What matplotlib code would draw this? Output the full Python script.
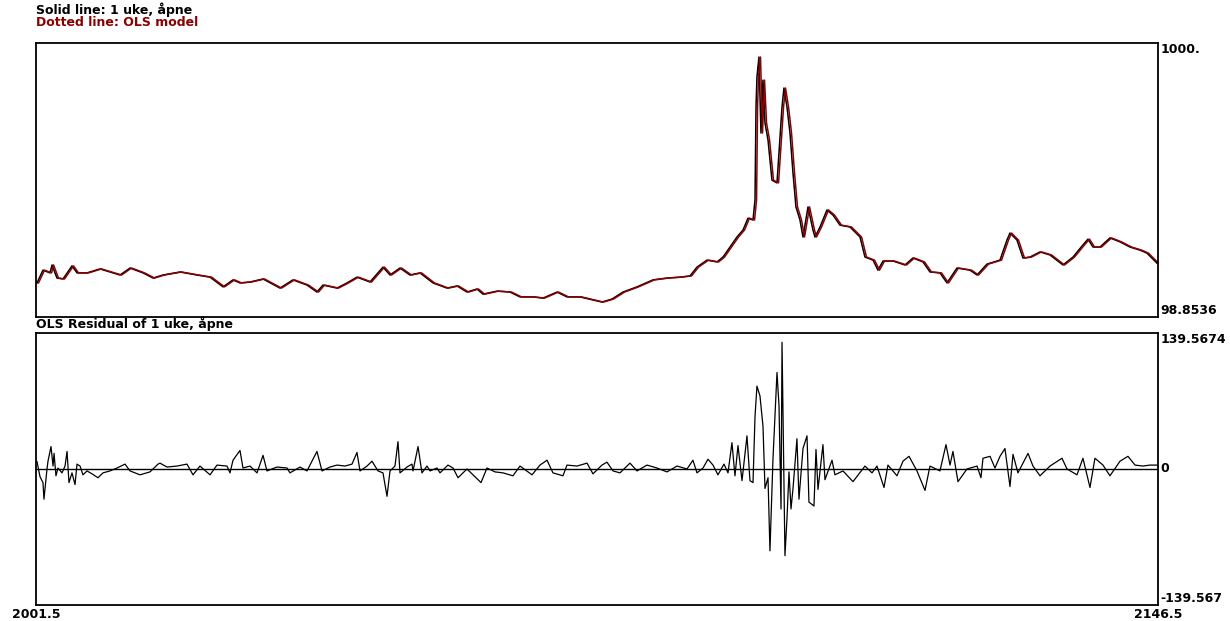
import numpy as np
import matplotlib.pyplot as plt

# ---- data ----
# weekly level ("1 uke, åpne")
obs_weeks = [2001.63, 2002.40, 2003.31, 2003.57, 2004.21, 2004.99, 2006.15, 2006.80, 2008.09, 2009.77,
             2011.06, 2012.36, 2013.65, 2015.33, 2016.62, 2017.91, 2020.11, 2022.31, 2023.99, 2025.67,
             2026.96, 2027.86, 2029.16, 2030.84, 2033.03, 2034.71, 2036.52, 2037.81, 2038.59, 2040.40,
             2041.69, 2042.98, 2044.66, 2046.34, 2047.25, 2048.54, 2049.83, 2051.12, 2052.80, 2054.61,
             2055.91, 2057.20, 2058.49, 2059.27, 2061.08, 2062.75, 2064.05, 2065.73, 2067.02, 2068.83,
             2070.12, 2071.80, 2073.48, 2074.64, 2075.94, 2077.36, 2079.17, 2081.23, 2083.04, 2084.72,
             2086.02, 2086.92, 2088.21, 2089.51, 2090.28, 2091.19, 2092.09, 2092.87, 2093.51, 2094.16,
             2094.42, 2094.55, 2094.67, 2094.93, 2095.19, 2095.45, 2095.71, 2096.10, 2096.61, 2097.26,
             2097.52, 2097.91, 2098.16, 2098.55, 2098.94, 2099.33, 2099.71, 2100.23, 2100.62, 2101.27,
             2101.91, 2102.17, 2102.82, 2103.72, 2104.50, 2105.40, 2106.69, 2107.99, 2108.63, 2109.67,
             2110.31, 2110.96, 2112.25, 2113.80, 2114.83, 2116.13, 2117.03, 2118.32, 2119.23, 2120.52,
             2122.20, 2123.11, 2124.40, 2126.08, 2126.98, 2127.37, 2128.27, 2129.05, 2129.95, 2131.25,
             2132.54, 2134.22, 2135.51, 2136.80, 2137.45, 2138.10, 2139.00, 2140.29, 2141.59, 2142.88,
             2144.17, 2145.07, 2146.37]
obs_level = [211, 253, 244, 270, 227, 224, 267, 244, 244, 257,
             247, 237, 260, 244, 227, 237, 247, 237, 230, 198,
             221, 211, 214, 224, 194, 221, 204, 181, 204, 194,
             211, 230, 214, 263, 237, 260, 237, 244, 211, 194,
             201, 181, 191, 174, 184, 181, 165, 165, 161, 181,
             165, 165, 155, 148, 158, 181, 198, 221, 227, 230,
             234, 263, 286, 280, 296, 329, 362, 385, 424, 418,
             484, 790, 888, 954, 704, 878, 737, 681, 549, 540,
             638, 790, 852, 790, 704, 572, 461, 418, 362, 461,
             385, 362, 395, 451, 434, 401, 395, 362, 296, 286,
             253, 283, 283, 270, 293, 280, 247, 244, 211, 260,
             253, 237, 273, 286, 352, 375, 352, 293, 296, 313,
             303, 270, 296, 336, 355, 329, 329, 359, 346, 329,
             319, 309, 276]

# OLS residual of the weekly level
res_weeks = [2001.63, 2002.02, 2002.40, 2002.53, 2002.92, 2003.05, 2003.44, 2003.70, 2003.83, 2004.08,
             2004.34, 2004.86, 2005.25, 2005.51, 2005.76, 2006.15, 2006.54, 2006.80, 2007.19, 2007.57,
             2008.09, 2008.74, 2009.51, 2010.16, 2011.06, 2011.97, 2013.00, 2013.65, 2014.94, 2016.23,
             2017.27, 2017.52, 2018.43, 2019.72, 2021.01, 2021.79, 2022.69, 2023.99, 2024.89, 2026.18,
             2026.57, 2026.96, 2027.86, 2028.25, 2029.16, 2030.06, 2030.84, 2031.35, 2032.64, 2033.94,
             2034.32, 2035.62, 2036.52, 2037.81, 2038.46, 2039.49, 2040.40, 2041.43, 2042.34, 2042.98,
             2043.37, 2044.28, 2044.92, 2045.70, 2046.34, 2046.86, 2047.25, 2047.89, 2048.28, 2048.54,
             2049.44, 2050.09, 2050.22, 2050.87, 2051.38, 2052.03, 2052.42, 2053.32, 2053.71, 2054.74,
             2055.39, 2056.04, 2057.20, 2057.97, 2059.01, 2059.78, 2060.82, 2061.85, 2063.14, 2064.05,
             2065.60, 2066.63, 2067.54, 2068.31, 2069.60, 2070.12, 2071.41, 2072.71, 2073.48, 2074.64,
             2075.29, 2076.07, 2076.97, 2078.26, 2079.17, 2080.46, 2081.75, 2083.04, 2084.34, 2085.63,
             2086.40, 2086.92, 2087.70, 2088.34, 2088.99, 2089.63, 2090.41, 2090.93, 2091.44, 2091.83,
             2092.22, 2092.74, 2093.38, 2093.77, 2094.16, 2094.42, 2094.67, 2095.06, 2095.45, 2095.71,
             2096.10, 2096.35, 2096.74, 2097.26, 2097.52, 2097.78, 2097.91, 2098.29, 2098.55, 2098.81,
             2099.07, 2099.33, 2099.84, 2100.10, 2100.62, 2101.14, 2101.39, 2102.04, 2102.30, 2102.56,
             2103.20, 2103.46, 2104.37, 2104.75, 2105.79, 2107.08, 2108.63, 2109.54, 2110.18, 2111.09,
             2111.60, 2112.77, 2113.54, 2114.32, 2115.35, 2116.39, 2117.03, 2118.32, 2119.10, 2119.62,
             2120.00, 2120.65, 2121.81, 2123.11, 2123.62, 2123.88, 2124.79, 2125.43, 2126.08, 2126.72,
             2127.37, 2127.76, 2128.40, 2129.70, 2130.34, 2131.25, 2132.54, 2134.09, 2134.74, 2136.03,
             2136.80, 2137.71, 2138.35, 2139.39, 2140.29, 2141.59, 2142.62, 2143.53, 2144.56, 2145.46,
             2146.37]
res_values = [7.5, -8, -14, -31, 0, 8, 23, 3, 16, -7,
              1, -4, 3, 18, -14, -4, -16, 5, 3, -6,
              -2, -5, -9, -4, -2, 1, 5, -2, -6, -3,
              5, 6, 2, 3, 5, -6, 3, -6, 4, 3,
              -4, 9, 19, 1, 3, -4, 14, -2, 2, 1,
              -4, 2, -2, 18, -2, 2, 4, 3, 5, 17,
              -2, 3, 8, -2, -4, -28, -2, 3, 28, -4,
              2, 5, -2, 23, -4, 3, -2, 1, -4, 4,
              1, -9, 0, -6, -14, 1, -3, -4, -7, 3,
              -6, 4, 9, -4, -7, 4, 3, 6, -5, 4,
              7, -2, -4, 6, -2, 4, 1, -3, 3, 0,
              9, -4, 1, 10, 4, -6, 5, -4, 27, -7,
              24, -12, 34, -12, -14, 54, 85, 75, 44, -20,
              -9, -84, 10, 99, 65, -41, 130, -89, -51, -3,
              -41, -20, 31, -31, 21, 34, -34, -38, 20, -21,
              25, -11, 9, -6, -2, -13, 3, -4, 3, -19,
              4, -7, 8, 13, -2, -22, 3, -2, 25, 4,
              18, -13, 0, 3, -9, 11, 13, 1, 13, 21,
              -18, 15, -4, 16, 3, -7, 3, 11, 0, -6,
              11, -19, 11, 4, -7, 8, 13, 4, 3, 4,
              4]

x_lo, x_hi = 2001.5, 2146.5
top_lo, top_hi = 98.8536, 1000.0
res_lim = 139.5674
fit_lag = 0.2   # the OLS fit follows the level about one observation behind

weeks = np.array(obs_weeks)
level = np.array(obs_level, dtype=float)

fig = plt.figure(figsize=(12.3, 6.21), dpi=100)
plt.rcParams['font.family'] = ['DejaVu Sans']

ax1 = fig.add_axes([0.02927, 0.4895, 0.9122, 0.4412])
ax2 = fig.add_axes([0.02927, 0.0258, 0.9122, 0.4380])

ax1.plot(weeks, level, color='black', lw=1.1)
ax1.plot(weeks + fit_lag, level, color='#8b0000', lw=1.1)
ax1.set_xlim(x_lo, x_hi)
ax1.set_ylim(top_lo, top_hi)

ax2.axhline(0, color='black', lw=1.0)
ax2.plot(res_weeks, res_values, color='black', lw=0.9)
ax2.set_xlim(x_lo, x_hi)
ax2.set_ylim(-res_lim, res_lim)

for ax in (ax1, ax2):
    ax.set_xticks([])
    ax.set_yticks([])
    for sp in ax.spines.values():
        sp.set_linewidth(1.3)
        sp.set_color('black')

fkw = dict(fontsize=9, fontweight='bold')
fig.text(36 / 1230, 1 - 10 / 621, 'Solid line: 1 uke, åpne', color='black', va='center', **fkw)
fig.text(36 / 1230, 1 - 22 / 621, 'Dotted line: OLS model', color='#8b0000', va='center', **fkw)
fig.text(36 / 1230, 1 - 324 / 621, 'OLS Residual of 1 uke, åpne', color='black', va='center', **fkw)

# right-hand value labels
ax1.text(1.002, 1.0, '1000.', transform=ax1.transAxes, ha='left', va='top', **fkw)
ax1.text(1.002, 0.0, '98.8536', transform=ax1.transAxes, ha='left', va='bottom', **fkw)
ax2.text(1.002, 1.0, '139.5674', transform=ax2.transAxes, ha='left', va='top', **fkw)
ax2.text(1.002, 0.5, '0', transform=ax2.transAxes, ha='left', va='center', **fkw)
ax2.text(1.002, 0.0, '-139.567', transform=ax2.transAxes, ha='left', va='bottom', **fkw)

# bottom x labels at the axis ends
ax2.text(0.0, -0.012, '2001.5', transform=ax2.transAxes, ha='center', va='top', **fkw)
ax2.text(1.0, -0.012, '2146.5', transform=ax2.transAxes, ha='center', va='top', **fkw)

fig.savefig('out.png', dpi=100)
